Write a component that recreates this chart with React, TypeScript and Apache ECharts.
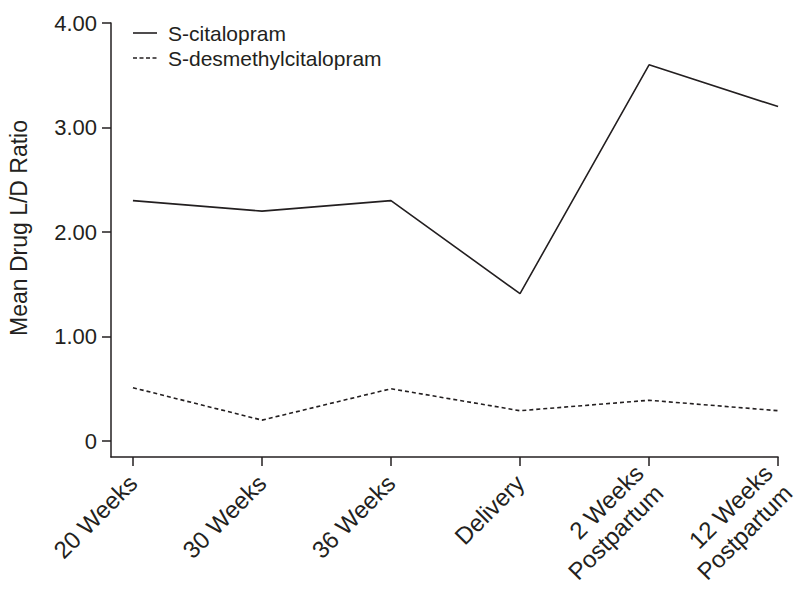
import React, { useEffect, useRef } from "react";
import * as echarts from "echarts";

const categories = ["20 Weeks", "30 Weeks", "36 Weeks", "Delivery", "2 Weeks\nPostpartum", "12 Weeks\nPostpartum"];
const citalopram = [2.3, 2.2, 2.3, 1.41, 3.6, 3.2];
const desmethyl = [0.51, 0.2, 0.5, 0.29, 0.39, 0.29];
const yTicks = [0, 1, 2, 3, 4];
const seriesNames = ["S-citalopram", "S-desmethylcitalopram"];
const yTitle = "Mean Drug L/D Ratio";

const INK = "#231f20";
const FONT = "Liberation Sans, Arial, Helvetica, sans-serif";
const DASH = [4, 3];

export default function App() {
  const ref = useRef<HTMLDivElement>(null);
  useEffect(() => {
    if (!ref.current) return;
    const chart = echarts.init(ref.current, undefined, { renderer: "svg" });
    const xIdx = categories.map((_, i) => i);
    const legendGraphics: any[] = [];
    seriesNames.forEach((name, i) => {
      const y = 33 + i * 25;
      legendGraphics.push({
        type: "line",
        shape: { x1: 133, y1: y, x2: 157, y2: y },
        style: { stroke: INK, lineWidth: 1.6, lineDash: i === 0 ? null : [4, 2.5] },
      });
      legendGraphics.push({
        type: "text",
        x: 168,
        y,
        style: { text: name, fontSize: 21, fontFamily: FONT, fill: INK, align: "left", verticalAlign: "middle" },
      });
    });
    chart.setOption({
      animation: false,
      backgroundColor: "#ffffff",
      textStyle: { fontFamily: FONT, color: INK },
      grid: { left: 111, right: 18, top: 23, bottom: 145, containLabel: false },
      graphic: [
        {
          type: "text",
          x: 19,
          y: 228,
          rotation: Math.PI / 2,
          style: {
            text: yTitle,
            fontSize: 23,
            fontFamily: FONT,
            fill: INK,
            align: "center",
            verticalAlign: "middle",
          },
        },
        ...legendGraphics,
      ],
      xAxis: {
        type: "value",
        min: -0.17,
        max: 5,
        splitLine: { show: false },
        axisLine: { show: true, onZero: false, lineStyle: { color: INK, width: 1.5 } },
        axisTick: { show: true, length: 9, customValues: xIdx, lineStyle: { color: INK, width: 1.5 } },
        axisLabel: {
          customValues: xIdx,
          rotate: 45,
          margin: 22,
          fontSize: 24,
          color: INK,
          fontFamily: FONT,
          lineHeight: 28,
          formatter: (v: number) => categories[Math.round(v)] ?? "",
        },
      },
      yAxis: {
        type: "value",
        min: -0.153,
        max: 4,
        splitLine: { show: false },
        axisLine: { show: true, onZero: false, lineStyle: { color: INK, width: 1.5 } },
        axisTick: { show: true, length: 9, customValues: yTicks, lineStyle: { color: INK, width: 1.5 } },
        axisLabel: {
          customValues: yTicks,
          margin: 14,
          fontSize: 22,
          color: INK,
          fontFamily: FONT,
          formatter: (v: number) => (v === 0 ? "0" : v.toFixed(2)),
        },
      },
      series: [
        {
          name: seriesNames[0],
          type: "line",
          symbol: "none",
          data: citalopram.map((v, i) => [i, v]),
          lineStyle: { color: INK, width: 1.6, type: "solid" },
          itemStyle: { color: INK },
        },
        {
          name: seriesNames[1],
          type: "line",
          symbol: "none",
          data: desmethyl.map((v, i) => [i, v]),
          lineStyle: { color: INK, width: 1.6, type: DASH },
          itemStyle: { color: INK },
        },
      ],
    });
    return () => chart.dispose();
  }, []);
  return <div ref={ref} style={{ position: "fixed", left: 0, top: 0, width: 800, height: 602 }} />;
}
